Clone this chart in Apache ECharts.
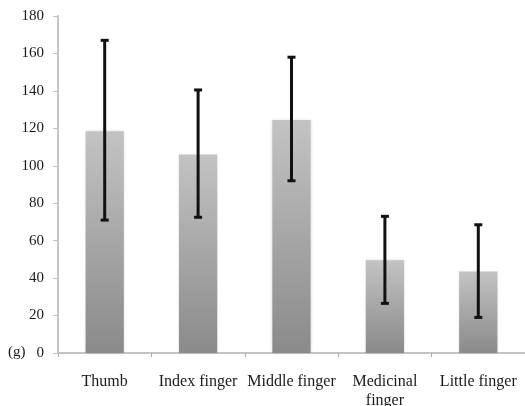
<!DOCTYPE html>
<html>
<head>
<meta charset="utf-8">
<script src="https://cdn.jsdelivr.net/npm/echarts@6/dist/echarts.min.js"></script>
<style>
  html, body { margin: 0; padding: 0; background: #fff; }
  #chart { width: 525px; height: 406px; }
</style>
</head>
<body>
<div id="chart"></div>
<script>
// finger data, grams
var fingers = ['Thumb', 'Index finger', 'Middle finger', 'Medicinal\nfinger', 'Little finger'];
var means = [118.5, 106, 124.5, 49.5, 43.5];
var errLow = [71, 72.5, 92, 26.5, 19];
var errHigh = [167, 140.5, 158, 73, 68.5];
var yTicks = [0, 20, 40, 60, 80, 100, 120, 140, 160, 180];

var serif = '"Liberation Serif", "DejaVu Serif", serif';

var errData = [];
for (var i = 0; i < fingers.length; i++) {
  errData.push([i, errLow[i], errHigh[i]]);
}

var chart = echarts.init(document.getElementById('chart'));
chart.setOption({
  animation: false,
  grid: { left: 58, right: 0, top: 16, bottom: 53, containLabel: false, outerBoundsMode: 'none' },
  xAxis: {
    type: 'category',
    data: fingers,
    axisLine: { lineStyle: { color: '#c4c4c4', width: 2 } },
    axisTick: { show: true, length: 4, lineStyle: { color: '#aaa' } },
    axisLabel: {
      margin: 19,
      interval: 0,
      color: '#1a1a1a',
      fontFamily: serif,
      fontSize: 16,
      lineHeight: 19
    }
  },
  yAxis: {
    type: 'value',
    min: yTicks[0],
    max: yTicks[yTicks.length - 1],
    interval: 20,
    splitLine: { show: false },
    axisLine: { show: true, lineStyle: { color: '#c4c4c4', width: 2 } },
    axisTick: { show: true, length: 5, lineStyle: { color: '#c4c4c4' } },
    axisLabel: {
      margin: 14,
      color: '#1a1a1a',
      fontFamily: serif,
      fontSize: 15
    }
  },
  graphic: [{
    type: 'text',
    left: 8,
    top: 345,
    style: { text: '(g)', fill: '#1a1a1a', font: '15px ' + serif }
  }],
  series: [{
    type: 'bar',
    data: means,
    barWidth: '41%',
    itemStyle: {
      color: new echarts.graphic.LinearGradient(0, 0, 0, 1, [
        { offset: 0, color: '#c3c3c3' },
        { offset: 1, color: '#8a8a8a' }
      ]),
      shadowBlur: 3,
      shadowColor: 'rgba(0,0,0,0.15)'
    }
  }, {
    type: 'custom',
    data: errData,
    z: 10,
    renderItem: function (params, api) {
      var x = api.value(0);
      var lo = api.coord([x, api.value(1)]);
      var hi = api.coord([x, api.value(2)]);
      var cap = 4;
      var st = { stroke: '#111', lineWidth: 3 };
      return {
        type: 'group',
        children: [
          { type: 'line', shape: { x1: lo[0], y1: lo[1], x2: hi[0], y2: hi[1] }, style: st },
          { type: 'line', shape: { x1: hi[0] - cap, y1: hi[1], x2: hi[0] + cap, y2: hi[1] }, style: st },
          { type: 'line', shape: { x1: lo[0] - cap, y1: lo[1], x2: lo[0] + cap, y2: lo[1] }, style: st }
        ]
      };
    }
  }]
});
</script>
</body>
</html>
